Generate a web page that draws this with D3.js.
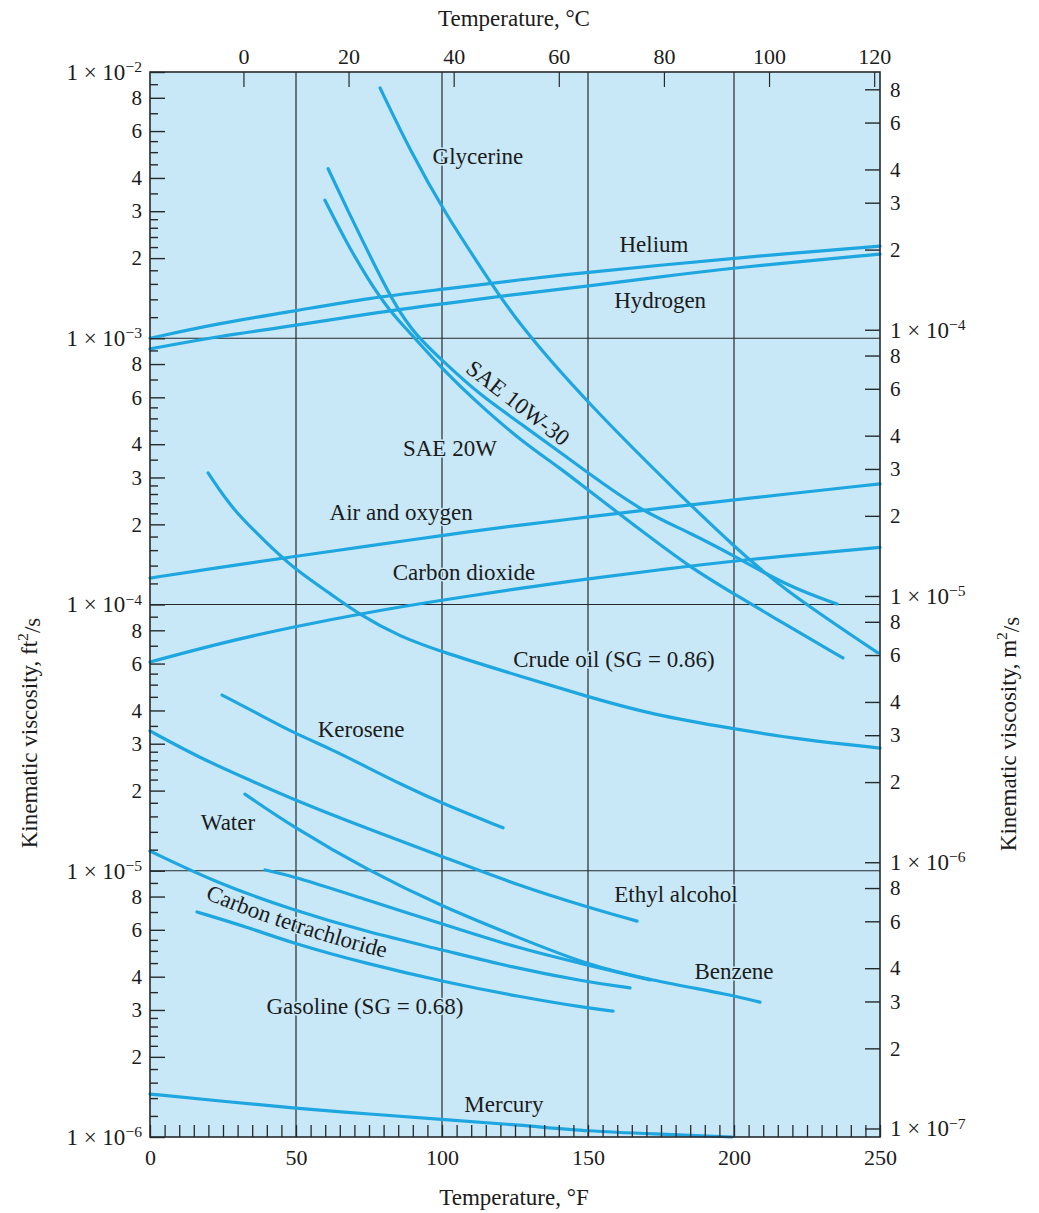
<!DOCTYPE html>
<html><head><meta charset="utf-8">
<script src="https://cdn.jsdelivr.net/npm/d3@7"></script>
<style>
body{margin:0;background:#fff;}
svg text{font-family:"Liberation Serif","Times New Roman",serif;fill:#1b1b1b;}
</style></head><body>
<svg id="chart" width="1039" height="1213"></svg>
<script>
// ---------- axis / tick data ----------
const tempFTicks = d3.range(0, 251, 5);
const tempFLabels = [0, 50, 100, 150, 200, 250];
const tempCLabels = [0, 20, 40, 60, 80, 100, 120];
const gridF = [50, 100, 150, 200];
const gridNu = [1e-3, 1e-4, 1e-5];
const leftDecadeExp = [-6, -5, -4, -3, -2];
const leftMajorMult = [2, 3, 4, 6, 8];
const leftMinorMult = [1.2, 1.4, 1.6, 1.8, 2.2, 2.4, 2.6, 2.8, 3.5, 4.5, 5, 5.5, 7, 9];
const rightDecadeExp = [-7, -6, -5, -4];
const rightMult = [2, 3, 4, 6, 8];
const ft2ToM2 = 0.09290304;

// ---------- series data: [temperature °F, kinematic viscosity ft²/s] ----------
const glycerine = [[78.8,8.71e-3],[89.0,5.09e-3],[101.0,2.95e-3],[115.4,1.70e-3],[125.7,1.15e-3],[149.7,5.71e-4],[184.9,2.37e-4],[199.7,1.67e-4],[215.8,1.16e-4],[249.3,6.58e-5]];
const sae10w30 = [[61.0,4.33e-3],[68.5,2.90e-3],[76.0,1.97e-3],[83.9,1.33e-3],[90.8,1.03e-3],[101.0,8.07e-4],[113.0,6.12e-4],[126.7,4.81e-4],[150.0,3.12e-4],[167.8,2.26e-4],[184.9,1.86e-4],[199.7,1.53e-4],[219.2,1.16e-4],[235.3,1.005e-4]];
const sae20w = [[59.9,3.30e-3],[66.8,2.34e-3],[74.7,1.66e-3],[82.2,1.26e-3],[89.0,1.05e-3],[101.0,7.47e-4],[113.0,5.61e-4],[126.7,4.15e-4],[141.4,3.20e-4],[150.0,2.69e-4],[167.8,1.91e-4],[184.9,1.38e-4],[199.7,1.10e-4],[219.2,8.22e-5],[237.3,6.30e-5]];
const helium = [[0,1.00e-3],[24.0,1.14e-3],[48.6,1.26e-3],[75.3,1.42e-3],[101.0,1.53e-3],[126.7,1.66e-3],[150.0,1.77e-3],[174.7,1.88e-3],[199.7,2.00e-3],[250,2.22e-3]];
const hydrogen = [[0,9.12e-4],[24.0,1.02e-3],[48.6,1.11e-3],[75.3,1.24e-3],[101.0,1.35e-3],[126.7,1.47e-3],[150.0,1.57e-3],[174.7,1.70e-3],[199.7,1.84e-3],[250,2.07e-3]];
const airOxygen = [[0,1.257e-4],[24.0,1.38e-4],[48.6,1.51e-4],[75.3,1.66e-4],[100.3,1.82e-4],[126.7,1.99e-4],[150.0,2.13e-4],[174.7,2.30e-4],[199.7,2.47e-4],[250,2.84e-4]];
const carbonDioxide = [[0,6.08e-5],[24.0,7.16e-5],[48.6,8.22e-5],[75.3,9.38e-5],[100.3,1.04e-4],[126.7,1.15e-4],[150.0,1.25e-4],[174.7,1.35e-4],[199.7,1.46e-4],[250,1.64e-4]];
const crudeOil = [[19.9,3.12e-4],[28.4,2.26e-4],[40.1,1.70e-4],[49.0,1.37e-4],[62.7,1.08e-4],[70.9,9.29e-5],[85.6,7.55e-5],[101.0,6.58e-5],[126.7,5.38e-5],[150.0,4.50e-5],[172.3,3.85e-5],[199.3,3.42e-5],[223.6,3.10e-5],[250,2.89e-5]];
const kerosene = [[24.7,4.57e-5],[37.7,3.85e-5],[48.6,3.32e-5],[62.7,2.84e-5],[74.3,2.45e-5],[85.6,2.12e-5],[101.0,1.77e-5],[120.9,1.45e-5]];
const ethylAlcohol = [[0,3.35e-5],[17.1,2.65e-5],[34.2,2.19e-5],[48.6,1.86e-5],[74.3,1.44e-5],[100.3,1.13e-5],[125.7,8.84e-6],[149.7,7.31e-6],[166.8,6.47e-6]];
const water = [[32.5,1.94e-5],[49.0,1.46e-5],[74.3,1.007e-5],[100.3,7.31e-6],[125.7,5.64e-6],[149.7,4.43e-6],[171.2,3.89e-6],[199.3,3.41e-6],[208.9,3.21e-6]];
const benzene = [[39.4,1.007e-5],[49.0,9.55e-6],[74.3,7.76e-6],[100.3,6.31e-6],[125.7,5.13e-6],[149.7,4.43e-6],[171.2,3.89e-6]];
const carbonTet = [[0,1.186e-5],[22.9,8.99e-6],[49.0,7.12e-6],[74.3,5.89e-6],[100.3,5.04e-6],[123.3,4.35e-6],[149.7,3.82e-6],[164.4,3.63e-6]];
const gasoline = [[16.1,7.00e-6],[34.2,6.10e-6],[48.6,5.35e-6],[74.3,4.47e-6],[101.0,3.82e-6],[126.7,3.36e-6],[149.7,3.05e-6],[158.6,2.97e-6]];
const mercury = [[0,1.45e-6],[24.0,1.365e-6],[48.6,1.285e-6],[75.3,1.22e-6],[101.0,1.16e-6],[126.7,1.11e-6],[150.0,1.05e-6],[174.7,1.026e-6],[199.3,1.0e-6]];

const seriesList = [glycerine, sae10w30, sae20w, helium, hydrogen, airOxygen, carbonDioxide,
  crudeOil, kerosene, ethylAlcohol, water, benzene, carbonTet, gasoline, mercury];

// label annotations: [text, °F, ft²/s, rotation]
const curveLabels = [
  ["Glycerine", 112.3, 4.80e-3, 0],
  ["Helium", 172.6, 2.24e-3, 0],
  ["Hydrogen", 174.7, 1.39e-3, 0],
  ["SAE 10W-30", 126.0, 5.71e-4, 37.8],
  ["SAE 20W", 102.7, 3.87e-4, 0],
  ["Air and oxygen", 86.0, 2.21e-4, 0],
  ["Carbon dioxide", 107.5, 1.32e-4, 0],
  ["Crude oil (SG = 0.86)", 158.9, 6.24e-5, 0],
  ["Kerosene", 72.3, 3.38e-5, 0],
  ["Water", 26.7, 1.52e-5, 0],
  ["Ethyl alcohol", 180.1, 8.11e-6, 0],
  ["Benzene", 200.0, 4.20e-6, 0],
  ["Gasoline (SG = 0.68)", 73.6, 3.08e-6, 0],
  ["Mercury", 121.2, 1.32e-6, 0]
];
const carbonTetLabel = "Carbon tetrachloride";
const carbonTetLabelStartF = 18.8;

// ---------- layout ----------
const L = 150, R = 880, T = 72, B = 1137;
const bg = "#c8e8f7", lineCol = "#1ea6e0", ink = "#262a2d";

const svg = d3.select("#chart");
const x = d3.scaleLinear().domain([0, 250]).range([L, R]);
const xC = d3.scaleLinear().domain([(0 - 32) * 5 / 9, (250 - 32) * 5 / 9]).range([L, R]);
const y = d3.scaleLog().domain([1e-6, 1e-2]).range([B, T]);
const yR = d3.scaleLog().domain([1e-6 * ft2ToM2, 1e-2 * ft2ToM2]).range([B, T]);

svg.append("rect").attr("x", L).attr("y", T).attr("width", R - L).attr("height", B - T)
  .attr("fill", bg);

// gridlines
svg.append("g").selectAll("line").data(gridF).join("line")
  .attr("x1", d => x(d)).attr("x2", d => x(d)).attr("y1", T).attr("y2", B)
  .attr("stroke", ink).attr("stroke-width", 1.2);
svg.append("g").selectAll("line").data(gridNu).join("line")
  .attr("x1", L).attr("x2", R).attr("y1", d => y(d)).attr("y2", d => y(d))
  .attr("stroke", ink).attr("stroke-width", 1.2);

// curves
const line = d3.line().x(d => x(d[0])).y(d => y(d[1])).curve(d3.curveBasis);
svg.append("g").selectAll("path").data(seriesList).join("path")
  .attr("d", line).attr("fill", "none").attr("stroke", lineCol)
  .attr("stroke-width", 3.2).attr("stroke-linecap", "round").attr("stroke-linejoin", "round");

function styleAxis(g, size) {
  g.attr("color", ink).attr("font-family", null).attr("font-size", null);
  g.select(".domain").remove();
  g.selectAll(".tick line").attr("stroke-width", 1.4);
  g.selectAll(".tick text").style("font-size", size + "px");
}
function supLabel(textSel, base, exp) {
  textSel.text(null);
  textSel.append("tspan").text(base);
  textSel.append("tspan").attr("dy", "-0.5em").style("font-size", "0.68em").text("−" + exp);
}
const multFormat = d => { const e = Math.floor(Math.log10(d) + 1e-9); return String(Math.round(d / Math.pow(10, e))); };

// left axis (ft²/s)
const leftMajor = [];
leftDecadeExp.forEach(e => {
  leftMajor.push(Math.pow(10, e));
  if (e < -2) leftMajorMult.forEach(m => leftMajor.push(m * Math.pow(10, e)));
});
const leftMinor = [];
leftDecadeExp.slice(0, -1).forEach(e => leftMinorMult.forEach(m => leftMinor.push(m * Math.pow(10, e))));

const gLeftMinor = svg.append("g").attr("transform", `translate(${L},0)`)
  .call(d3.axisLeft(y).tickValues(leftMinor).tickSize(-8).tickFormat(""));
styleAxis(gLeftMinor, 21);
const gLeft = svg.append("g").attr("transform", `translate(${L},0)`)
  .call(d3.axisLeft(y).tickValues(leftMajor).tickSize(-15).tickPadding(8).tickFormat(multFormat));
styleAxis(gLeft, 21);
gLeft.selectAll(".tick text").each(function(d) {
  const e = Math.round(Math.log10(d));
  if (Math.abs(Math.log10(d) - e) < 1e-6) { d3.select(this).style("font-size", "23px"); supLabel(d3.select(this), "1 × 10", -e); }
});

// right axis (m²/s)
const rightTicks = [];
rightDecadeExp.forEach(e => {
  rightTicks.push(Math.pow(10, e));
  rightMult.forEach(m => { const v = m * Math.pow(10, e); if (v < 1e-2 * ft2ToM2) rightTicks.push(v); });
});
const gRight = svg.append("g").attr("transform", `translate(${R},0)`)
  .call(d3.axisRight(yR).tickValues(rightTicks).tickSize(-15).tickPadding(10).tickFormat(multFormat));
styleAxis(gRight, 21);
gRight.selectAll(".tick text").each(function(d) {
  const e = Math.round(Math.log10(d));
  if (Math.abs(Math.log10(d) - e) < 1e-6) { d3.select(this).style("font-size", "23px"); supLabel(d3.select(this), "1 × 10", -e); }
});

// top axis (°C)
const gTop = svg.append("g").attr("transform", `translate(0,${T})`)
  .call(d3.axisTop(xC).tickValues(tempCLabels).tickSize(-15).tickPadding(8));
styleAxis(gTop, 22);
gTop.selectAll(".tick line").attr("stroke-width", 1.2);

// bottom axis (°F)
const gBottom = svg.append("g").attr("transform", `translate(0,${B})`)
  .call(d3.axisBottom(x).tickValues(tempFTicks).tickSize(-12).tickPadding(12)
    .tickFormat(d => tempFLabels.includes(d) ? String(d) : ""));
styleAxis(gBottom, 22);
gBottom.selectAll(".tick line").attr("stroke-width", 1.3);

// frame
svg.append("rect").attr("x", L).attr("y", T).attr("width", R - L).attr("height", B - T)
  .attr("fill", "none").attr("stroke", ink).attr("stroke-width", 1.6);

// curve labels
const lab = svg.append("g").style("font-size", "23px");
lab.selectAll("text").data(curveLabels).join("text")
  .attr("transform", d => `translate(${x(d[1])},${y(d[2])}) rotate(${d[3]})`)
  .attr("text-anchor", "middle").attr("dominant-baseline", "central")
  .attr("stroke", bg).attr("stroke-width", 3).attr("paint-order", "stroke")
  .text(d => d[0]);

// carbon tetrachloride label following its curve
const offsetLine = d3.line().x(d => x(d[0])).y(d => y(d[1]) + 22).curve(d3.curveBasis);
const defs = svg.append("defs");
const ctPath = defs.append("path").attr("id", "ctPath").attr("d", offsetLine(carbonTet));
const node = ctPath.node();
const total = node.getTotalLength();
let lo = 0, hi = total;
const target = x(carbonTetLabelStartF);
for (let i = 0; i < 40; i++) { const mid = (lo + hi) / 2; if (node.getPointAtLength(mid).x < target) lo = mid; else hi = mid; }
lab.append("text").attr("stroke", bg).attr("stroke-width", 3).attr("paint-order", "stroke")
  .append("textPath").attr("href", "#ctPath").attr("startOffset", lo).text(carbonTetLabel);

// axis titles
const titles = svg.append("g").style("font-size", "23px");
titles.append("text").attr("x", 514).attr("y", 18).attr("text-anchor", "middle")
  .attr("dominant-baseline", "central").text("Temperature, °C");
titles.append("text").attr("x", 514).attr("y", 1197).attr("text-anchor", "middle")
  .attr("dominant-baseline", "central").text("Temperature, °F");
function vTitle(cx, cy, unit) {
  const t = titles.append("text").attr("transform", `translate(${cx},${cy}) rotate(-90)`)
    .attr("text-anchor", "middle").attr("dominant-baseline", "central");
  t.append("tspan").text("Kinematic viscosity, " + unit);
  t.append("tspan").attr("dy", "-0.45em").style("font-size", "0.68em").text("2");
  t.append("tspan").attr("dy", "0.45em").text("/s");
}
vTitle(29, 733, "ft");
vTitle(1008, 734, "m");
</script>
</body></html>
